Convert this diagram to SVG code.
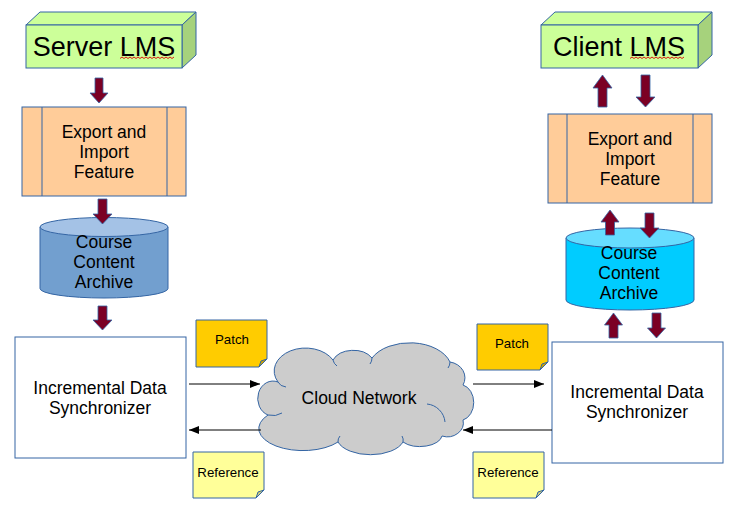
<svg xmlns="http://www.w3.org/2000/svg" width="739" height="518" viewBox="0 0 739 518">
<defs>
<style>
.t{font-family:"Liberation Sans",Arial,sans-serif;fill:#000;text-anchor:middle}
.big{font-size:27px}
.mid{font-size:17.5px}
.sm{font-size:13.3px}
.edge{stroke:#3465a4;stroke-width:1}
.gf{fill:#ccff99}
.gs{fill:#a6d27c}
.ex{fill:#ffcc99}
.blk{fill:#7b0024;stroke:#3465a4;stroke-width:0.8}
.ln{stroke:#000;stroke-width:1;fill:none}
.wave{fill:none;stroke:#e00000;stroke-width:0.9}
</style>
<marker id="ah" viewBox="0 0 10 8" refX="10" refY="4" markerWidth="10" markerHeight="8" markerUnits="userSpaceOnUse" orient="auto">
<path d="M0,0 L10,4 L0,8 Z" fill="#000"/>
</marker>
</defs>
<rect width="739" height="518" fill="#fff"/>

<g id="server-lms">
<polygon class="gf edge" points="26,25 40,12 196,12 182,25"/>
<polygon class="gs edge" points="182,25 196,12 196,55 182,68"/>
<rect class="gf edge" x="26" y="25" width="156" height="43"/>
<text class="t big" x="104" y="56">Server LMS</text>
<path class="wave" d="M120,58.5 l2,-1.5 l2,1.5 l2,-1.5 l2,1.5 l2,-1.5 l2,1.5 l2,-1.5 l2,1.5 l2,-1.5 l2,1.5 l2,-1.5 l2,1.5 l2,-1.5 l2,1.5 l2,-1.5 l2,1.5 l2,-1.5 l2,1.5 l2,-1.5 l2,1.5 l2,-1.5 l2,1.5 l2,-1.5 l2,1.5 l2,-1.5 l2,1.5 l2,-1.5"/>
</g>

<g id="client-lms">
<polygon class="gf edge" points="541,25 555,12 712,12 698,25"/>
<polygon class="gs edge" points="698,25 712,12 712,55 698,68"/>
<rect class="gf edge" x="541" y="25" width="157" height="43"/>
<text class="t big" x="619" y="56">Client LMS</text>
<path class="wave" d="M630,58.5 l2,-1.5 l2,1.5 l2,-1.5 l2,1.5 l2,-1.5 l2,1.5 l2,-1.5 l2,1.5 l2,-1.5 l2,1.5 l2,-1.5 l2,1.5 l2,-1.5 l2,1.5 l2,-1.5 l2,1.5 l2,-1.5 l2,1.5 l2,-1.5 l2,1.5 l2,-1.5 l2,1.5 l2,-1.5 l2,1.5 l2,-1.5 l2,1.5 l2,-1.5"/>
</g>

<g id="server-export">
<rect class="ex edge" x="22" y="107" width="164" height="89"/>
<line class="edge" x1="42" y1="107" x2="42" y2="196"/>
<line class="edge" x1="167" y1="107" x2="167" y2="196"/>
<text class="t mid" x="104" y="138">Export and</text>
<text class="t mid" x="104" y="158">Import</text>
<text class="t mid" x="104" y="178">Feature</text>
</g>

<g id="client-export">
<rect class="ex edge" x="548" y="114" width="164" height="89"/>
<line class="edge" x1="567" y1="114" x2="567" y2="203"/>
<line class="edge" x1="693" y1="114" x2="693" y2="203"/>
<text class="t mid" x="630" y="145">Export and</text>
<text class="t mid" x="630" y="165">Import</text>
<text class="t mid" x="630" y="185">Feature</text>
</g>

<g id="server-archive">
<path class="edge" fill="#729fcf" d="M40,227 V288.5 A64,9.5 0 0 0 168,288.5 V227 Z"/>
<ellipse class="edge" fill="#a4c2e6" cx="104" cy="227" rx="64" ry="9.5"/>
<text class="t mid" x="104" y="248">Course</text>
<text class="t mid" x="104" y="268">Content</text>
<text class="t mid" x="104" y="288">Archive</text>
</g>

<g id="client-archive">
<path class="edge" fill="#00ccff" d="M566,238 V300 A64,10 0 0 0 694,300 V238 Z"/>
<ellipse class="edge" fill="#66ddff" cx="630" cy="238" rx="64" ry="10"/>
<text class="t mid" x="629" y="259">Course</text>
<text class="t mid" x="629" y="279">Content</text>
<text class="t mid" x="629" y="299">Archive</text>
</g>

<g id="server-sync">
<rect class="edge" fill="#fff" x="15" y="337" width="171" height="121"/>
<text class="t mid" x="100" y="394">Incremental Data</text>
<text class="t mid" x="100" y="414">Synchronizer</text>
</g>

<g id="client-sync">
<rect class="edge" fill="#fff" x="552" y="342" width="171" height="121"/>
<text class="t mid" x="637" y="398">Incremental Data</text>
<text class="t mid" x="637" y="418">Synchronizer</text>
</g>

<g id="cloud-network">
<path class="edge" fill="#cccccc" d="M278,382 A30,22 0 0 1 333,360 A22,16 0 0 1 372,358 A42,27 0 0 1 450,362 A18,16 0 0 1 463,385 A14,18 0 0 1 463,420 A16,14 0 0 1 442,436 A22,12 0 0 1 403,442 A34,18 0 0 1 338,442 A36,18 0 0 1 268,415 A14,16 0 0 1 278,382 Z"/>
<path class="edge" fill="none" d="M278,382 A10,8 0 0 0 286,387 M333,360 A10,10 0 0 0 337,366 M372,358 A10,10 0 0 1 370,364 M450,362 A10,10 0 0 1 448,368 M427,404 A20,20 0 0 1 445,422 M403,442 A8,8 0 0 0 402,436 M338,442 A8,8 0 0 1 340,436 M268,415 A14,10 0 0 0 282,413"/>
<text class="t mid" x="359" y="404">Cloud Network</text>
</g>

<g id="patch-left">
<path fill="#ffcc00" class="edge" d="M196,320 H267 V359 L259,367 H196 Z"/>
<path fill="#cca300" class="edge" d="M267,359 L259,367 L261,361 Z"/>
<text class="t sm" x="232" y="344">Patch</text>
</g>

<g id="patch-right">
<path fill="#ffcc00" class="edge" d="M477,324 H548 V362 L540,370 H477 Z"/>
<path fill="#cca300" class="edge" d="M548,362 L540,370 L542,364 Z"/>
<text class="t sm" x="512" y="348">Patch</text>
</g>

<g id="reference-left">
<path fill="#ffff99" class="edge" d="M193,452 H264 V490 L256,498 H193 Z"/>
<path fill="#cccc7a" class="edge" d="M264,490 L256,498 L258,492 Z"/>
<text class="t sm" x="228" y="477">Reference</text>
</g>

<g id="reference-right">
<path fill="#ffff99" class="edge" d="M473,452 H544 V490 L536,498 H473 Z"/>
<path fill="#cccc7a" class="edge" d="M544,490 L536,498 L538,492 Z"/>
<text class="t sm" x="508" y="477">Reference</text>
</g>

<g id="connectors">
<polygon class="blk" points="95,78 103,78 103,93 108,93 99,103 90,93 95,93"/>
<polygon class="blk" points="98,199 107,199 107,214 112,214 102.5,224 93,214 98,214"/>
<polygon class="blk" points="98,306 107,306 107,320 112,320 102.5,330 93,320 98,320"/>

<polygon class="blk" points="598,107 607,107 607,88 612,88 602.5,75 593,88 598,88"/>
<polygon class="blk" points="641,75 650,75 650,97 655,97 645.5,107 636,97 641,97"/>
<polygon class="blk" points="605.5,235 614.5,235 614.5,222 619,222 610,210 601,222 605.5,222"/>
<polygon class="blk" points="645,213 654,213 654,228 659,228 649.5,238 640,228 645,228"/>
<polygon class="blk" points="609,338 618,338 618,325 622.5,325 613.5,313 604.5,325 609,325"/>
<polygon class="blk" points="652,313 661,313 661,328 665.5,328 656.5,338 647.5,328 652,328"/>

<line class="ln" x1="189" y1="384" x2="260" y2="384" marker-end="url(#ah)"/>
<line class="ln" x1="261" y1="430" x2="189" y2="430" marker-end="url(#ah)"/>
<line class="ln" x1="473" y1="384" x2="544" y2="384" marker-end="url(#ah)"/>
<line class="ln" x1="552" y1="430" x2="463" y2="430" marker-end="url(#ah)"/>
</g>
</svg>
